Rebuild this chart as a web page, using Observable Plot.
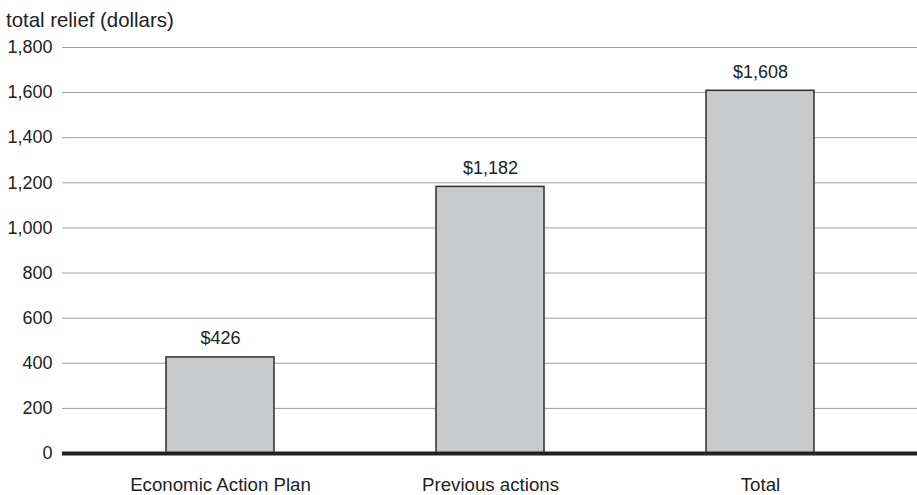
<!DOCTYPE html>
<html>
<head>
<meta charset="utf-8">
<script src="https://cdn.jsdelivr.net/npm/d3@7"></script>
<script src="https://cdn.jsdelivr.net/npm/@observablehq/plot@0.6"></script>
<style>
  html, body { margin: 0; padding: 0; background: #fff; }
  body { width: 917px; height: 495px; overflow: hidden; font-family: "Liberation Sans", Arial, Helvetica, sans-serif; color: #222; }
  #title { height: 20.5px; padding: 9.5px 0 0 6px; font-size: 20.4px; line-height: 20px; white-space: nowrap; }
  #chart svg { display: block; }
</style>
</head>
<body>
<div id="title">total relief (dollars)</div>
<div id="chart"></div>
<script>
// Total relief by source of measures
const categories = ["Economic Action Plan", "Previous actions", "Total"];
const values = [426, 1182, 1608];
const yTicks = [0, 200, 400, 600, 800, 1000, 1200, 1400, 1600, 1800];

const data = categories.map((c, i) => ({category: c, value: values[i]}));
const fmt = d3.format(",");

const chart = Plot.plot({
  width: 917,
  height: 465,
  marginTop: 17,
  marginBottom: 42,
  marginLeft: 62,
  marginRight: 0,
  style: {fontFamily: "'Liberation Sans', Arial, Helvetica, sans-serif", fontSize: "18px", color: "#222", background: "#fff"},
  x: {domain: categories, paddingInner: 0.6, paddingOuter: 0.383, align: 0.5},
  y: {domain: [0, 1800]},
  marks: [
    Plot.ruleY(yTicks.filter(t => t > 0), {stroke: "#9d9d9d", strokeWidth: 1}),
    Plot.axisY({ticks: yTicks, tickSize: 0, tickPadding: 10, tickFormat: fmt, label: null, fontSize: 18, fill: "#222"}),
    Plot.axisX({tickSize: 0, tickPadding: 24, label: null, fontSize: 18.7, fill: "#222"}),
    Plot.barY(data, {x: "category", y: "value", fill: "#c8c9cb", stroke: "#2e2e2e", strokeWidth: 1.5}),
    Plot.ruleY([0], {stroke: "#222", strokeWidth: 4}),
    Plot.text(data, {x: "category", y: "value", text: d => "$" + fmt(d.value), lineAnchor: "bottom", dy: -13, fontSize: 18, fill: "#222"})
  ]
});
document.getElementById("chart").appendChild(chart);
</script>
</body>
</html>
